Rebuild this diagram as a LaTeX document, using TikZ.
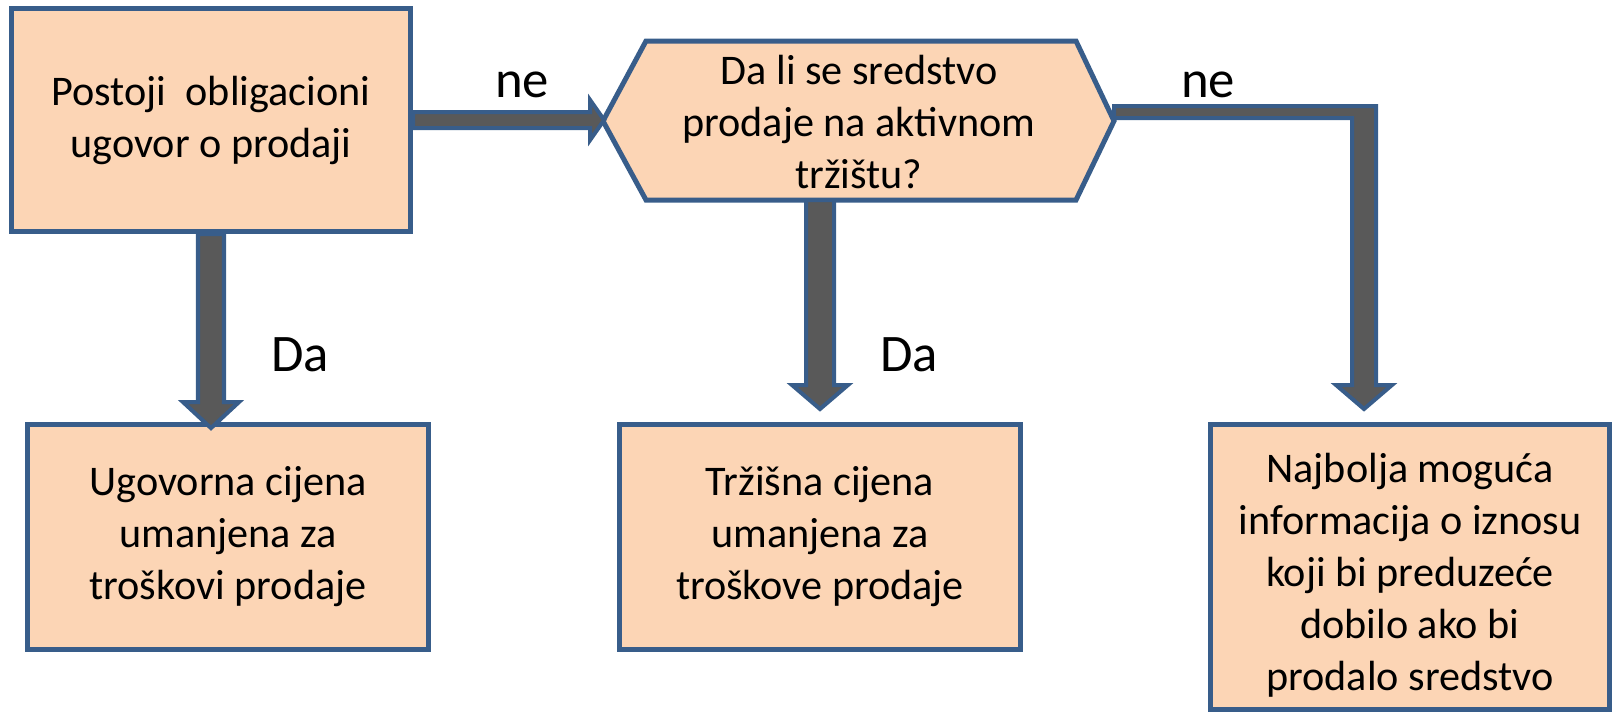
\documentclass[tikz,border=0pt]{standalone}
\usepackage{fontspec}
\setmainfont{Carlito}
\usepackage{tikz}
\definecolor{tilefill}{RGB}{252,213,181}
\definecolor{tileline}{RGB}{56,93,138}
\definecolor{arrowfill}{RGB}{89,89,89}
\tikzstyle{tile}=[draw=tileline, fill=tilefill, line width=1.42pt,
    rectangle, align=center, font=\fontsize{12}{14.8}\selectfont]
\tikzstyle{blockarrow}=[draw=tileline, fill=arrowfill, line width=1.14pt,
    line join=miter]
\tikzstyle{answer}=[font=\fontsize{15}{18}\selectfont, inner sep=0pt]

\begin{document}
\begin{tikzpicture}[x=0.01cm, y=-0.01cm]
            \useasboundingbox (0,0) rectangle (1612,711);

            % boxes
            \node[tile, minimum width=3.99cm, minimum height=2.23cm] (contract) at (211, 120)
                {Postoji\ \ obligacioni\\ugovor o prodaji};
            \draw[tile] (603,121) -- (646,41) -- (1076,41) -- (1114,121)
                -- (1076,200) -- (646,200) -- cycle;
            \node[align=center, font=\fontsize{12}{14.8}\selectfont] (market) at (859, 122)
                {Da li se sredstvo\\prodaje na aktivnom\\tržištu?};
            \coordinate (market-s) at (820, 200);
            \coordinate (market-e) at (1364, 112);
            \node[tile, minimum width=4.00cm, minimum height=2.24cm] (contractprice) at (228, 537)
                {Ugovorna cijena\\umanjena za\\troškovi prodaje};
            \node[tile, minimum width=4.01cm, minimum height=2.24cm] (marketprice) at (820, 537)
                {Tržišna cijena\\umanjena za\\troškove prodaje};
            \node[tile, minimum width=3.98cm, minimum height=2.84cm] (bestinfo) at (1410, 567) {};
            \node[align=center, font=\fontsize{12}{14.8}\selectfont] (bestinfo-text) at (1410, 575)
                {Najbolja moguća\\informacija o iznosu\\koji bi preduzeće\\dobilo ako bi\\prodalo sredstvo};

            % arrows
            \draw[blockarrow, shift={(contract.east)}]
                (0,-8) -- (177,-8) -- (177,-20) -- (191,0) -- (177,20) -- (177,8) -- (0,8) -- cycle;
            \draw[blockarrow, shift={(contract.south)}]
                (-13,0) -- (-13,168) -- (-28,168) -- (0,194) -- (28,168) -- (13,168) -- (13,0) -- cycle;
            \draw[blockarrow, shift={(market-s)}]
                (-14,0) -- (-14,185) -- (-28,185) -- (0,209) -- (28,185) -- (14,185) -- (14,0) -- cycle;
            \draw[blockarrow, shift={(market-e)}]
                (-250,-6) -- (12,-6) -- (12,273) -- (28,273) -- (0,297) -- (-28,273)
                -- (-12,273) -- (-12,6) -- (-250,6) -- cycle;

            % labels
            \node[answer] (no1) at (522, 85) {ne};
            \node[answer] (no2) at (1208, 85) {ne};
            \node[answer] (yes1) at (300, 355) {Da};
            \node[answer] (yes2) at (909, 355) {Da};
\end{tikzpicture}
\end{document}
